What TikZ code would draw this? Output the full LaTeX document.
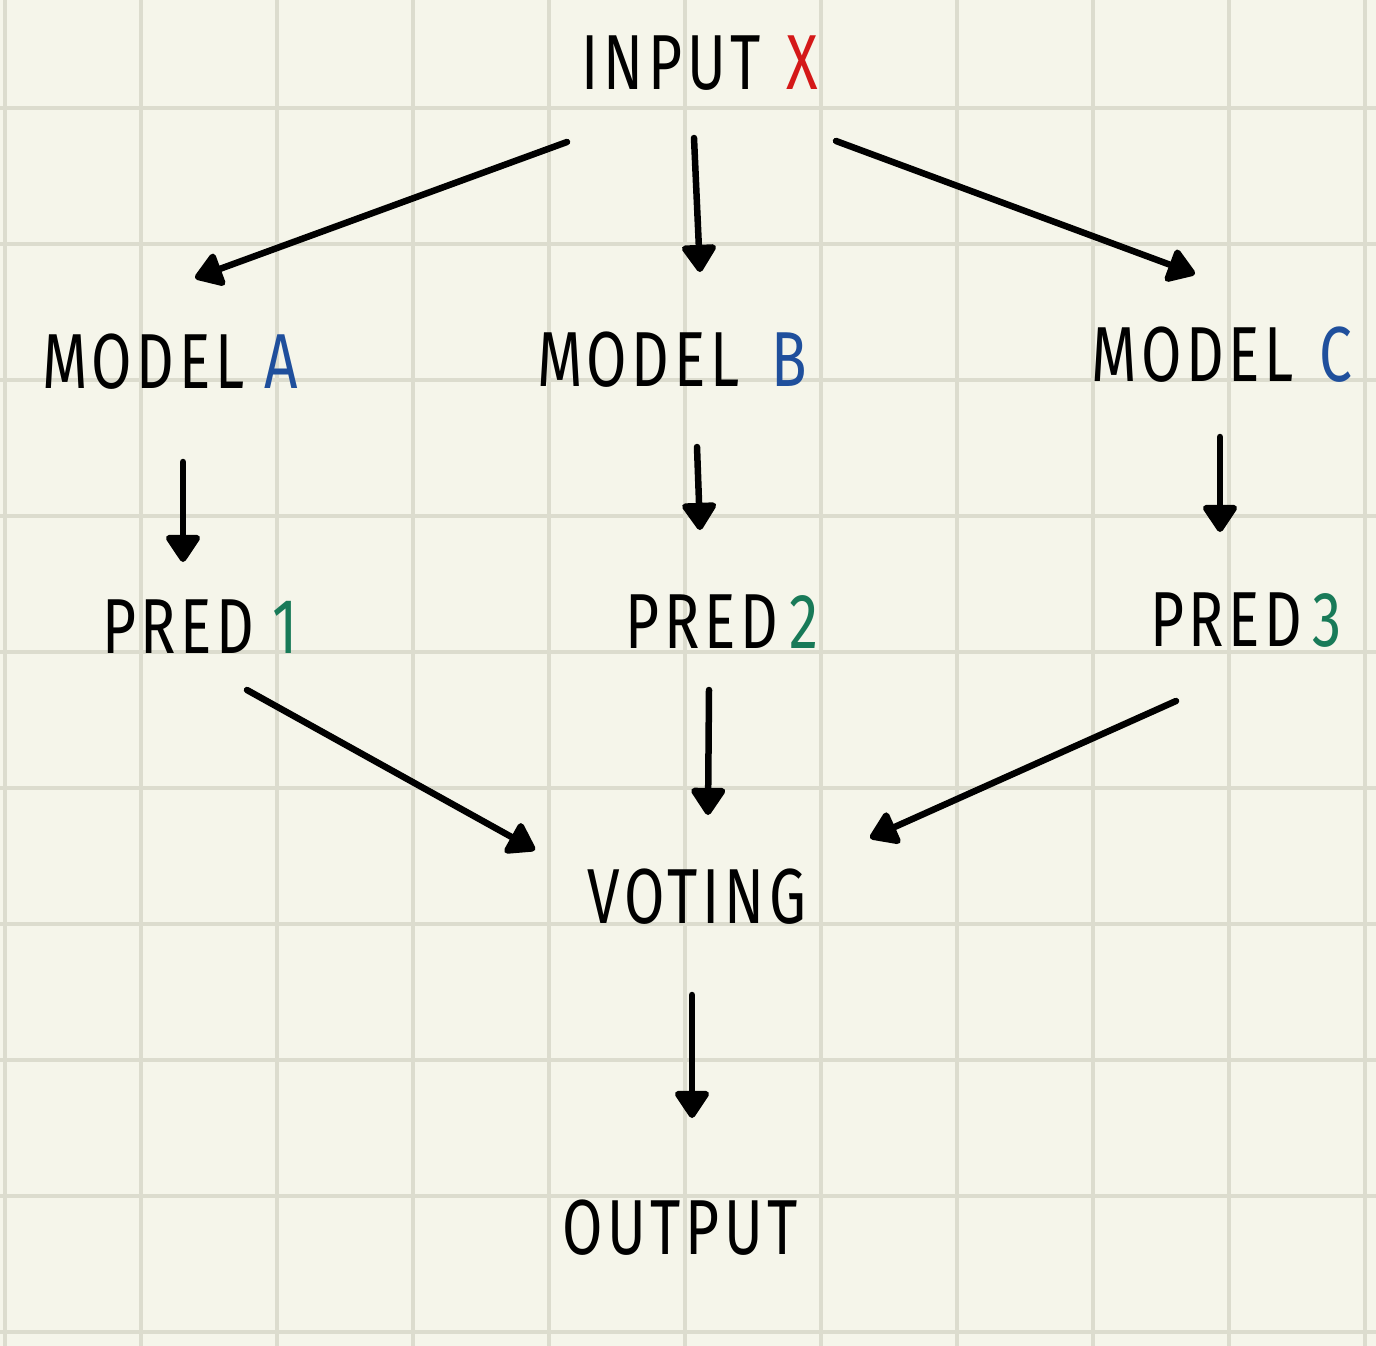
\documentclass[tikz,border=0pt]{standalone}
\usepackage{fontspec}
\newfontfamily\hand{Fira Sans}[FakeStretch=0.75,LetterSpace=6]
\usetikzlibrary{arrows.meta,calc}
\definecolor{paper}{HTML}{F5F5EA}
\definecolor{gridc}{HTML}{DCDCCE}
\definecolor{xred}{HTML}{D41818}
\definecolor{mblue}{HTML}{1F4F9C}
\definecolor{pgreen}{HTML}{187A58}
\tikzset{
  lbl/.style={inner sep=0pt, font=\hand\fontsize{78}{78}\selectfont, text=black},
  arr/.style={line width=6.5pt, line cap=round, line join=round, draw=black,
    -{Triangle[length=30pt,width=38pt,round]}}
}
\begin{document}
\begin{tikzpicture}[x=1pt,y=-1pt]
\fill[paper] (0,0) rectangle (1376,1346);
\useasboundingbox (0,0) rectangle (1376,1346);
\foreach \k in {0,...,10} {
  \draw[gridc, line width=4pt] ({5+136*\k},0) -- ({5+136*\k},1346);
}
\foreach \k in {0,...,9} {
  \draw[gridc, line width=4pt] (0,{108+136*\k}) -- (1376,{108+136*\k});
}
\node[lbl] (inp) at (700,63) {INPUT\hspace{26pt}{\color{xred}X}};
\node[lbl] (mA) at (170,362) {MODEL\hspace{20pt}{\color{mblue}A}};
\node[lbl] (mB) at (672,360) {MODEL\hspace{32pt}{\color{mblue}B}};
\node[lbl] (mC) at (1222,355) {MODEL\hspace{26pt}{\color{mblue}C}};
\node[lbl] (p1) at (200,627) {PRED\hspace{18pt}{\color{pgreen}1}};
\node[lbl] (p2) at (722,622) {PRED\hspace{12pt}{\color{pgreen}2}};
\node[lbl] (p3) at (1246,620) {PRED\hspace{10pt}{\color{pgreen}3}};
\node[lbl] (vot) at (697,897) {VOTING};
\node[lbl] (out) at (680,1228) {OUTPUT};
\draw[arr] ($(inp.center)+(-133,79)$) -- ($(mA.center)+(25,-84)$);
\draw[arr] ($(inp.center)+(-6,75)$) -- ($(mB.center)+(28,-88)$);
\draw[arr] ($(inp.center)+(136,78)$) -- ($(mC.center)+(-27,-81)$);
\draw[arr] ($(mA.center)+(13,100)$) -- ($(p1.center)+(-17,-65)$);
\draw[arr] ($(mB.center)+(25,87)$) -- ($(p2.center)+(-22,-92)$);
\draw[arr] ($(mC.center)+(-2,82)$) -- ($(p3.center)+(-26,-88)$);
\draw[arr] ($(p1.center)+(47,63)$) -- ($(vot.center)+(-162,-47)$);
\draw[arr] ($(p2.center)+(-13,68)$) -- ($(vot.center)+(11,-82)$);
\draw[arr] ($(p3.center)+(-70,81)$) -- ($(vot.center)+(173,-59)$);
\draw[arr] ($(vot.center)+(-5,98)$) -- ($(out.center)+(12,-110)$);
\end{tikzpicture}
\end{document}
